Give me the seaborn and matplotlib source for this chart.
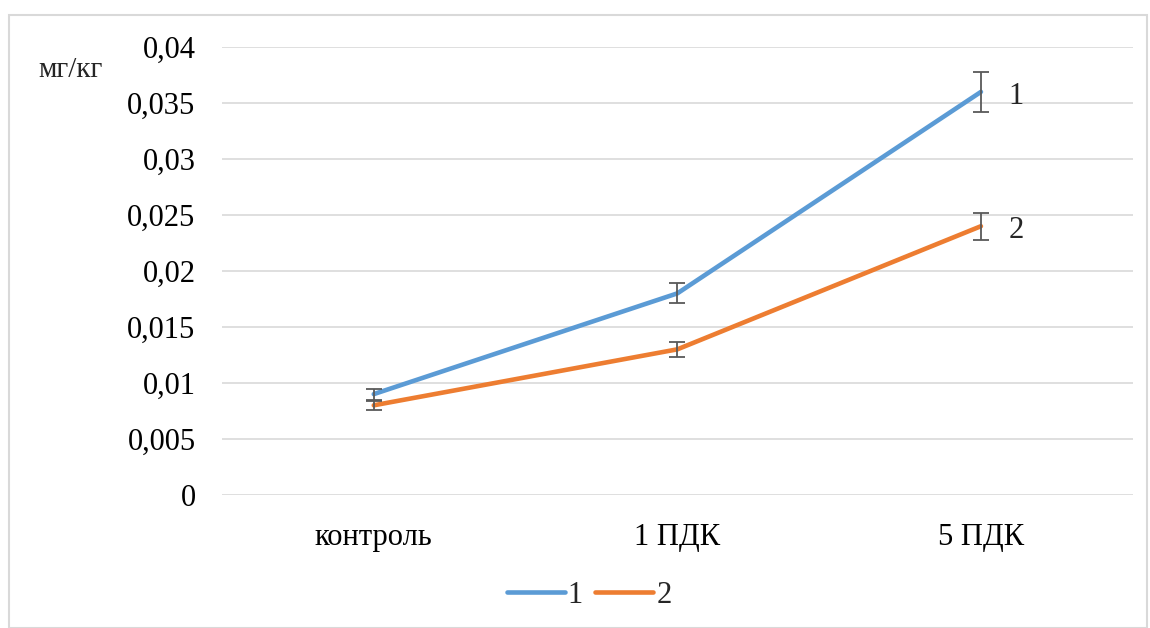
import numpy as np
import pandas as pd
import matplotlib.pyplot as plt
from matplotlib.patches import Rectangle
import seaborn as sns

# data
groups = ['контроль', '1 ПДК', '5 ПДК']
series_names = ['1', '2']
values_1 = [0.009, 0.018, 0.036]
values_2 = [0.008, 0.013, 0.024]
err_1 = [0.0005, 0.0009, 0.0018]
err_2 = [0.0004, 0.0007, 0.0012]
yticks = [0, 0.005, 0.01, 0.015, 0.02, 0.025, 0.03, 0.035, 0.04]
ytick_labels = ['0', '0,005', '0,01', '0,015', '0,02', '0,025', '0,03', '0,035', '0,04']

colors = ['#5b9bd5', '#ed7d31']

df = pd.DataFrame({
    'group': groups * 2,
    'value': values_1 + values_2,
    'series': [series_names[0]] * 3 + [series_names[1]] * 3,
})

sns.set_style('white')
plt.rcParams['font.family'] = ['Liberation Serif', 'DejaVu Serif']

fig = plt.figure(figsize=(11.5, 6.28), dpi=100)
ax = fig.add_axes([0.193, 0.212, 0.792, 0.713])

sns.lineplot(data=df, x='group', y='value', hue='series', palette=colors,
             linewidth=3.3, sort=False, ax=ax, legend=True)

x = np.arange(len(groups))
for vals, errs in [(values_1, err_1), (values_2, err_2)]:
    ax.errorbar(x, vals, yerr=errs, fmt='none', ecolor='#595959',
                elinewidth=1.3, capsize=6, capthick=1.3, zorder=5)

ax.set_xlim(-0.5, 2.5)
ax.set_ylim(0, 0.04)
ax.set_yticks(yticks)
ax.set_yticklabels(ytick_labels)
ax.grid(axis='y', color='#d9d9d9', linewidth=1.2)
ax.set_axisbelow(True)
for s in ax.spines.values():
    s.set_visible(False)
ax.tick_params(axis='both', length=0, labelsize=22, colors='black')
ax.tick_params(axis='y', pad=19)
ax.tick_params(axis='x', pad=20)
ax.set_xlabel('')
ax.set_ylabel('')

# series labels at the right end
for vals, name in [(values_1, series_names[0]), (values_2, series_names[1])]:
    ax.annotate(name, (2, vals[-1]), xytext=(20, -3), textcoords='offset points',
                fontsize=22, va='center', ha='left')

fig.text(0.033, 0.888, 'мг/кг', fontsize=21, va='center', ha='left')

handles, labels = ax.get_legend_handles_labels()
ax.legend(handles, labels, loc='center', bbox_to_anchor=(0.403, -0.225),
          ncol=2, frameon=False, fontsize=22, handlelength=1.9,
          handletextpad=0.1, columnspacing=0.4)

fig.patches.append(Rectangle((9 / 1150, 0), 1138 / 1150, 1 - 15 / 628,
                             transform=fig.transFigure, fill=False,
                             edgecolor='#d9d9d9', linewidth=1.5))

fig.savefig('out.png', dpi=100)
